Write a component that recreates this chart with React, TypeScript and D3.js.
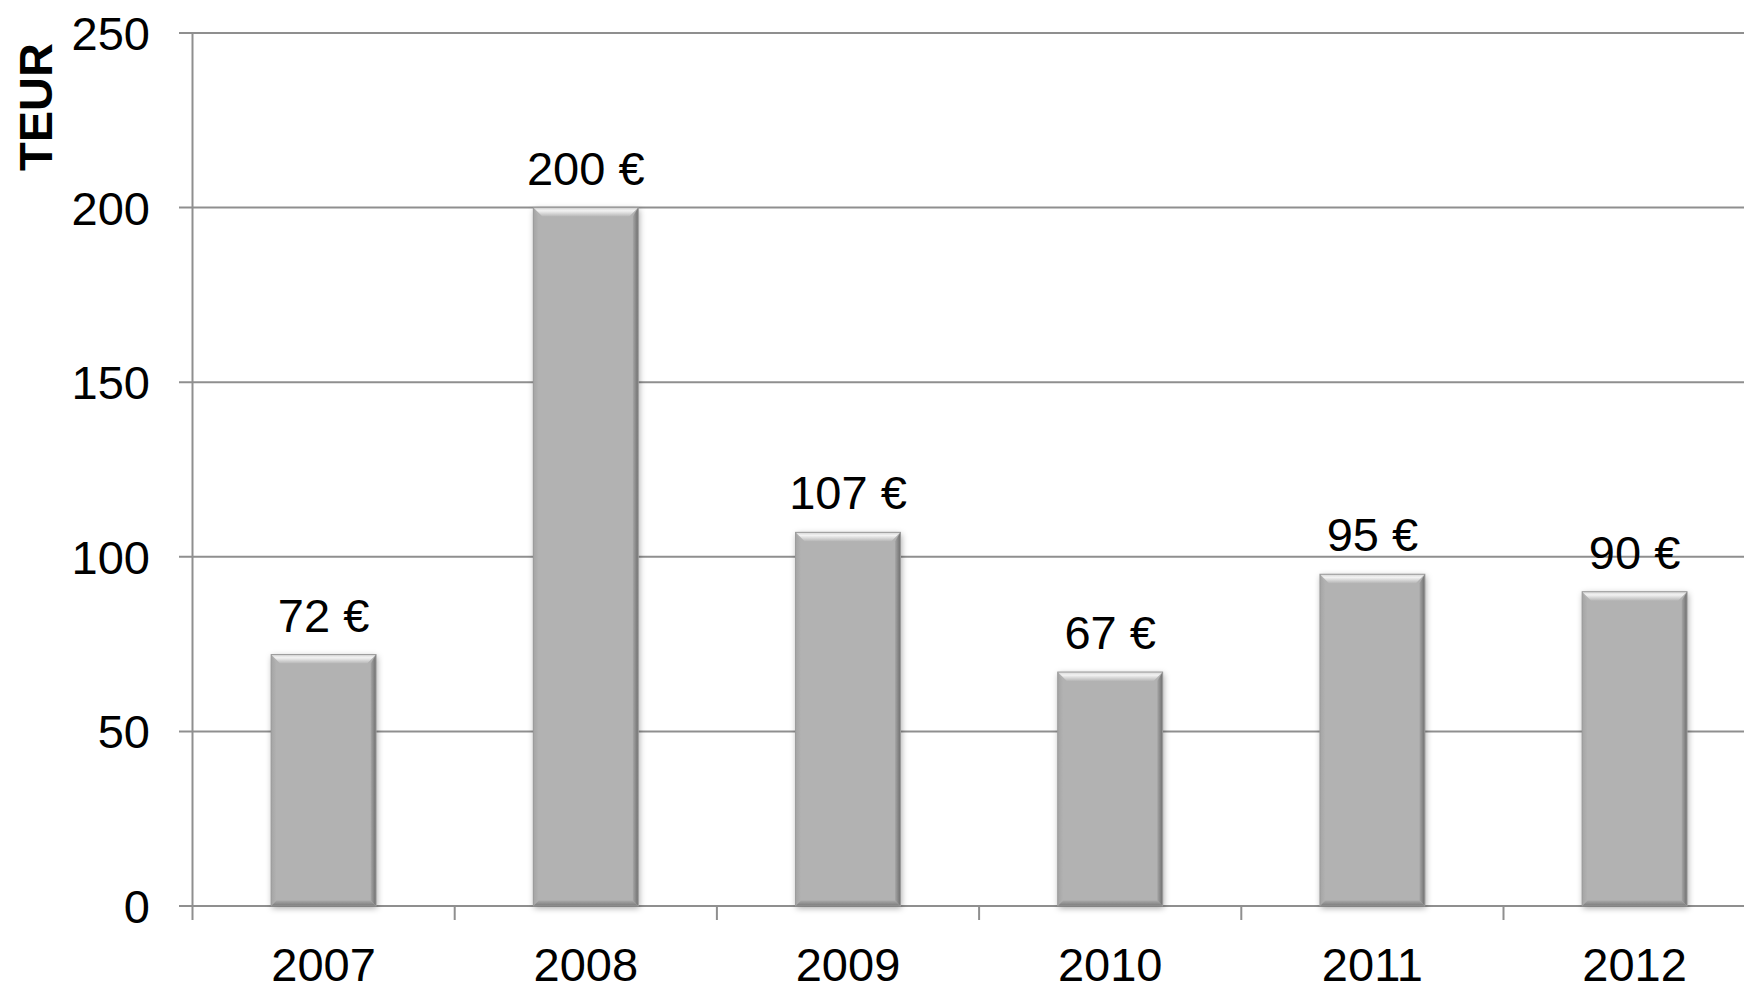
import React from "react";
import * as d3 from "d3";

const years = ["2007", "2008", "2009", "2010", "2011", "2012"];
const values = [72, 200, 107, 67, 95, 90];
const yTicks = [0, 50, 100, 150, 200, 250];
const yLabel = "TEUR";
const valueSuffix = " €";

const W = 1744;
const H = 984;
const FONT = "'Liberation Sans', Arial, sans-serif";

export default function App() {
  const x0 = 192.5;
  const step = 262.2;
  const x = d3.scaleBand<string>().domain(years).range([x0, x0 + step * years.length]).padding(0);
  const y = d3.scaleLinear().domain([0, 250]).range([906, 33]);
  const barW = x.bandwidth() * 0.4;
  const bv = 9;

  return (
    <div style={{ position: "fixed", left: 0, top: 0, width: W, height: H, background: "#fff" }}>
      <svg width={W} height={H} style={{ display: "block" }} fontFamily={FONT}>
        <defs>
          <filter id="shadow" x="-20%" y="-10%" width="140%" height="120%">
            <feDropShadow dx="1" dy="2" stdDeviation="3" floodColor="#000" floodOpacity="0.35" />
          </filter>
          <linearGradient id="topBevel" x1="0" y1="0" x2="0" y2="1">
            <stop offset="0" stopColor="#d6d6d6" />
            <stop offset="0.35" stopColor="#f2f2f2" />
            <stop offset="1" stopColor="#b6b6b6" />
          </linearGradient>
          <linearGradient id="leftBevel" x1="0" y1="0" x2="1" y2="0">
            <stop offset="0" stopColor="#a4a4a4" />
            <stop offset="1" stopColor="#b2b2b2" />
          </linearGradient>
          <linearGradient id="rightBevel" x1="0" y1="0" x2="1" y2="0">
            <stop offset="0" stopColor="#a6a6a6" />
            <stop offset="1" stopColor="#6e6e6e" />
          </linearGradient>
          <linearGradient id="bottomBevel" x1="0" y1="0" x2="0" y2="1">
            <stop offset="0" stopColor="#a8a8a8" />
            <stop offset="1" stopColor="#7a7a7a" />
          </linearGradient>
        </defs>

        {/* gridlines + y ticks */}
        {yTicks.map((t) => (
          <line key={"g" + t} x1={179} x2={W} y1={y(t)} y2={y(t)} stroke="#8f8f8f" strokeWidth={2} />
        ))}
        {/* y axis */}
        <line x1={x0} x2={x0} y1={y(250)} y2={920} stroke="#8f8f8f" strokeWidth={2} />
        {/* x ticks at category boundaries */}
        {years.map((yr) => (
          <line key={"t" + yr} x1={(x(yr) as number) + step} x2={(x(yr) as number) + step} y1={y(0)} y2={920} stroke="#8f8f8f" strokeWidth={2} />
        ))}

        {/* y tick labels */}
        {yTicks.map((t) => (
          <text key={"l" + t} x={150} y={y(t)} dy="0.36em" textAnchor="end" fontSize={47} fill="#000">
            {t}
          </text>
        ))}

        {/* y axis title */}
        <text transform={`translate(52,107) rotate(-90)`} textAnchor="middle" fontSize={47} fontWeight="bold" fill="#000">
          {yLabel}
        </text>

        {/* bars */}
        {years.map((yr, i) => {
          const cx = (x(yr) as number) + x.bandwidth() / 2;
          const l = cx - barW / 2;
          const r = cx + barW / 2;
          const t = y(values[i]);
          const b = y(0);
          return (
            <g key={"b" + yr}>
              <rect x={l} y={t} width={barW} height={b - t} fill="#b2b2b2" filter="url(#shadow)" />
              <polygon points={`${l},${t} ${r},${t} ${r - bv},${t + bv} ${l + bv},${t + bv}`} fill="url(#topBevel)" />
              <polygon points={`${l},${t} ${l + bv * 0.6},${t + bv} ${l + bv * 0.6},${b - bv * 0.6} ${l},${b}`} fill="url(#leftBevel)" />
              <polygon points={`${r},${t} ${r - bv * 0.6},${t + bv} ${r - bv * 0.6},${b - bv * 0.6} ${r},${b}`} fill="url(#rightBevel)" />
              <polygon points={`${l},${b} ${l + bv * 0.6},${b - bv * 0.6} ${r - bv * 0.6},${b - bv * 0.6} ${r},${b}`} fill="url(#bottomBevel)" />
              <rect x={l} y={t} width={barW} height={b - t} fill="none" stroke="#9a9a9a" strokeWidth={1} />
            </g>
          );
        })}

        {/* value labels */}
        {years.map((yr, i) => (
          <text key={"v" + yr} x={(x(yr) as number) + x.bandwidth() / 2} y={y(values[i]) - 23} textAnchor="middle" fontSize={47} fill="#000">
            {values[i] + valueSuffix}
          </text>
        ))}

        {/* x labels */}
        {years.map((yr) => (
          <text key={"x" + yr} x={(x(yr) as number) + x.bandwidth() / 2} y={981} textAnchor="middle" fontSize={47} fill="#000">
            {yr}
          </text>
        ))}
      </svg>
    </div>
  );
}
